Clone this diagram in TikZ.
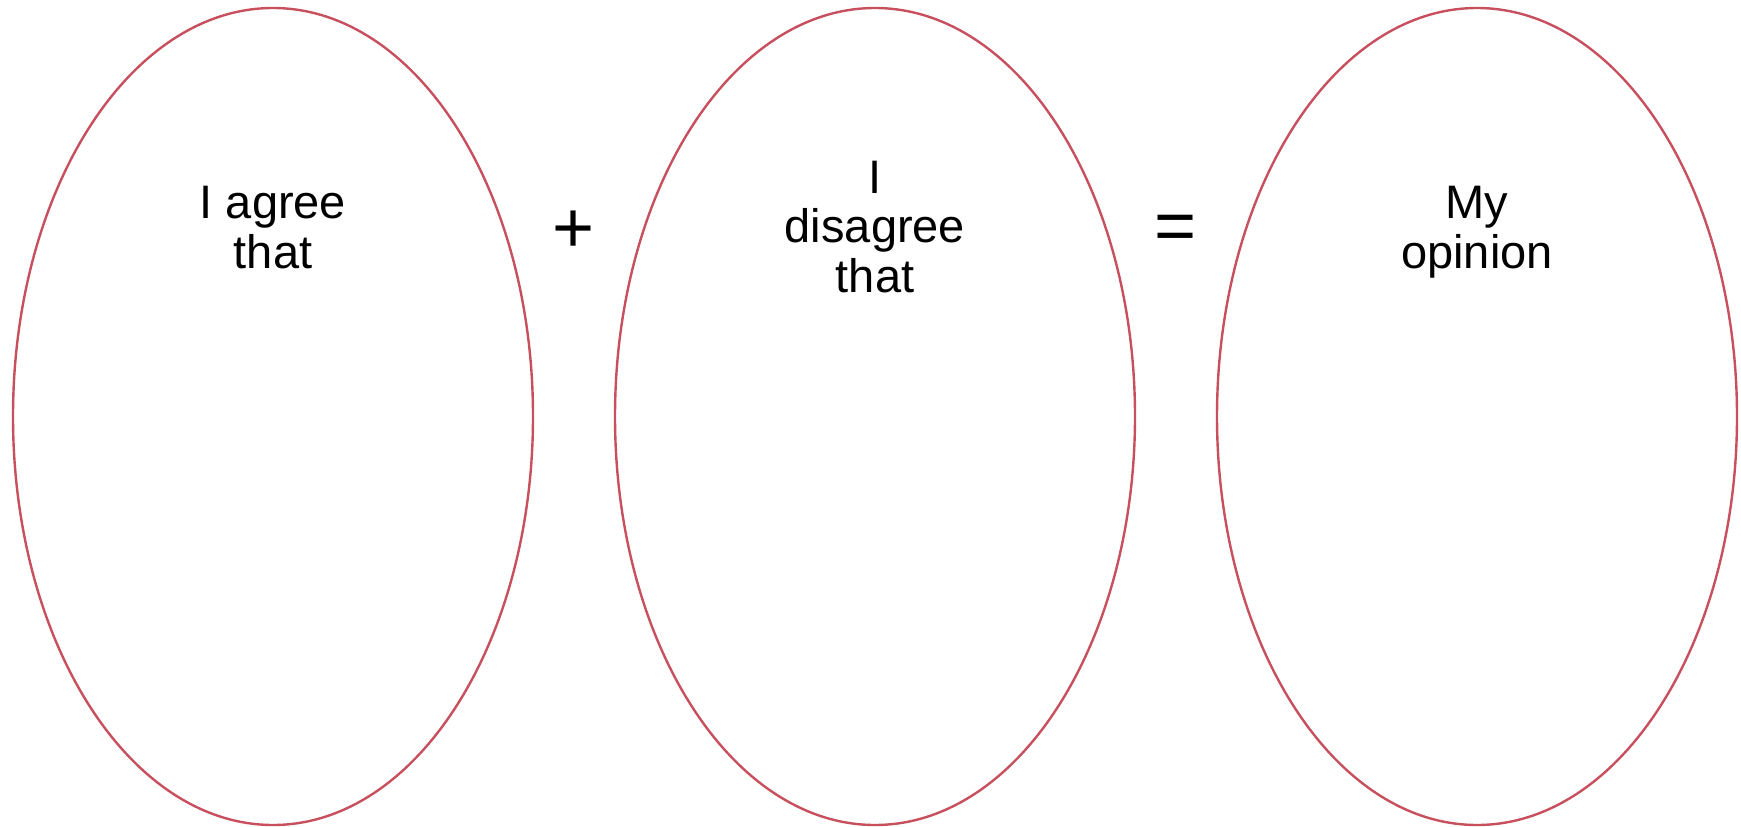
\documentclass[tikz,border=0pt]{standalone}
\usepackage{fontspec}
\setmainfont{Liberation Sans}
\usetikzlibrary{shapes.geometric}
\definecolor{ovalred}{RGB}{200,80,94}
\tikzset{
  oval/.style={ellipse, draw=ovalred, line width=2.4pt, inner sep=0pt, outer sep=0pt,
               minimum width=520pt, minimum height=817pt},
  lbl/.style={anchor=base, inner sep=0pt, font=\fontsize{47pt}{50pt}\selectfont},
  op/.style={anchor=center, inner sep=0pt, font=\fontsize{72pt}{72pt}\selectfont}
}
\begin{document}
\begin{tikzpicture}[x=1pt,y=-1pt]
\useasboundingbox (0,0) rectangle (1741,827);
\node[oval] (e1) at (273,416.5) {};
\node[oval] (e2) at (875,416.5) {};
\node[oval] (e3) at (1477,416.5) {};
\node[lbl] (a1) at (273,218) {I agree};
\node[lbl] (a2) at (273,268) {that};
\node[lbl] (b1) at (875,193) {I};
\node[lbl] (b2) at (875,242) {disagree};
\node[lbl] (b3) at (875,292) {that};
\node[lbl] (c1) at (1477,218) {My};
\node[lbl] (c2) at (1477,268) {opinion};
\node[op] (plus) at (574,232) {+};
\node[op] (eq) at (1176,233) {=};
\end{tikzpicture}
\end{document}
